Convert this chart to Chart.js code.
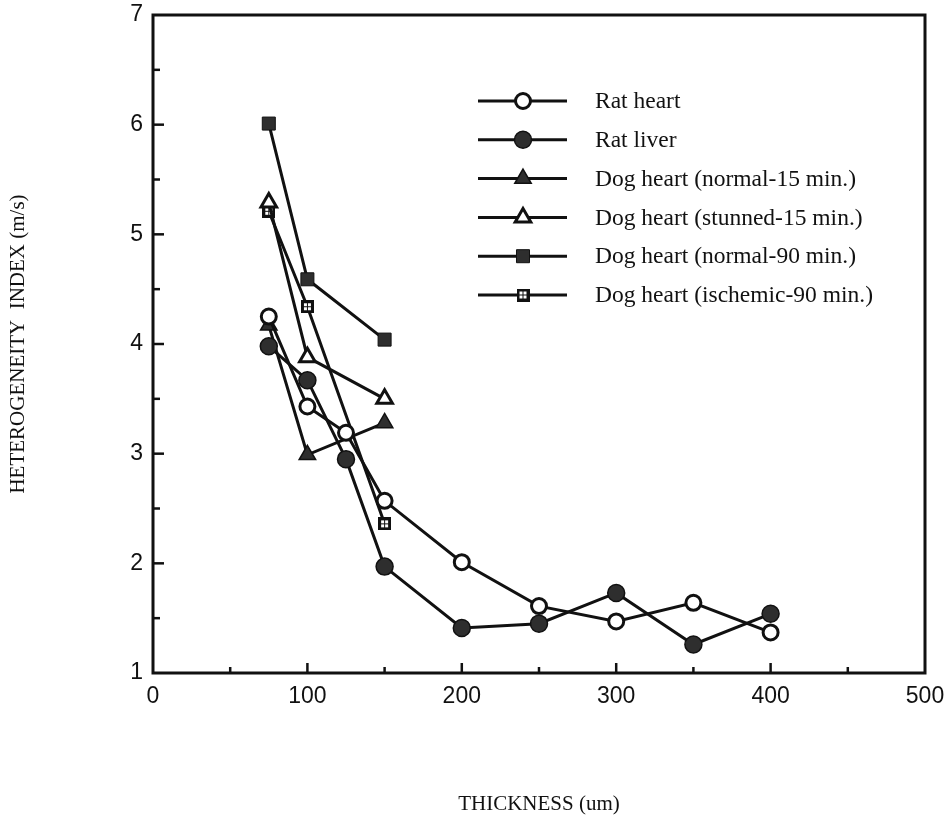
<!DOCTYPE html>
<html>
<head>
<meta charset="utf-8">
<script src="https://cdn.jsdelivr.net/npm/chart.js@4.4.0/dist/chart.umd.min.js"></script>
<style>
    body { margin: 0; background: #fff; }
    canvas { display: block; }
</style>
</head>
<body>
<canvas id="thicknessChart" width="950" height="822"></canvas>
<script>
// Section thickness (um) for each group
const ratThickness = [75, 100, 125, 150, 200, 250, 300, 350, 400];
const dogThickness = [75, 100, 150];

// Heterogeneity index (m/s)
const ratHeart = [4.25, 3.43, 3.19, 2.57, 2.01, 1.61, 1.47, 1.64, 1.37];
const ratLiver = [3.98, 3.67, 2.95, 1.97, 1.41, 1.45, 1.73, 1.26, 1.54];
const dogNormal15 = [4.17, 2.99, 3.28];
const dogStunned15 = [5.29, 3.88, 3.50];
const dogNormal90 = [6.01, 4.59, 4.04];
const dogIschemic90 = [5.21, 4.34, 2.36];

const seriesLabels = [
    'Rat heart',
    'Rat liver',
    'Dog heart (normal-15 min.)',
    'Dog heart (stunned-15 min.)',
    'Dog heart (normal-90 min.)',
    'Dog heart (ischemic-90 min.)'
];

const xTicks = [0, 100, 200, 300, 400, 500];
const yTicks = [1, 2, 3, 4, 5, 6, 7];

const ink = '#111111';
const dark = '#2e2e2e';

// Black square with a 2x2 grid of white holes
function makeGridSquare() {
    const c = document.createElement('canvas');
    c.width = 13;
    c.height = 13;
    const g = c.getContext('2d');
    g.fillStyle = ink;
    g.fillRect(0, 0, 13, 13);
    g.fillStyle = '#fff';
    g.fillRect(3, 3, 3, 3);
    g.fillRect(7, 3, 3, 3);
    g.fillRect(3, 7, 3, 3);
    g.fillRect(7, 7, 3, 3);
    return c;
}

const markers = [
    { style: 'circle', radius: 7.5, fill: '#fff', border: 3 },
    { style: 'circle', radius: 8.5, fill: dark, border: 1.5 },
    { style: 'triangle', radius: 9.5, fill: dark, border: 1.5 },
    { style: 'triangle', radius: 9, fill: '#fff', border: 3 },
    { style: 'rect', radius: 9.2, fill: dark, border: 1 },
    { style: makeGridSquare(), radius: 7, fill: ink, border: 0 }
];

function series(i, xs, ys) {
    const m = markers[i];
    return {
        label: seriesLabels[i],
        data: xs.map((x, k) => ({ x: x, y: ys[k] })),
        borderColor: ink,
        borderWidth: 3,
        pointStyle: m.style,
        pointRadius: m.radius,
        pointBackgroundColor: m.fill,
        pointBorderColor: ink,
        pointBorderWidth: m.border,
        fill: false,
        tension: 0
    };
}

// Draws one legend marker the same way the points look
function drawMarker(ctx, m, x, y) {
    ctx.save();
    ctx.fillStyle = m.fill;
    ctx.strokeStyle = ink;
    ctx.lineWidth = m.border;
    ctx.beginPath();
    if (typeof m.style !== 'string') {
        ctx.drawImage(m.style, x - m.style.width / 2, y - m.style.height / 2);
        ctx.restore();
        return;
    }
    if (m.style === 'circle') {
        ctx.arc(x, y, m.radius, 0, Math.PI * 2);
    } else if (m.style === 'triangle') {
        const r = m.radius;
        ctx.moveTo(x, y - r);
        ctx.lineTo(x + Math.sin(2 * Math.PI / 3) * r, y + r / 2);
        ctx.lineTo(x - Math.sin(2 * Math.PI / 3) * r, y + r / 2);
        ctx.closePath();
    } else {
        const s = m.radius * Math.SQRT1_2;
        ctx.rect(x - s, y - s, 2 * s, 2 * s);
    }
    ctx.fill();
    if (m.border > 0) ctx.stroke();
    ctx.restore();
}

// Box frame, inward ticks and the legend inside the plot
const frameAndLegend = {
    id: 'frameAndLegend',
    afterDatasetsDraw(chart) {
        const { ctx, chartArea: a, scales } = chart;
        const x = scales.x;
        const y = scales.y;
        ctx.save();
        ctx.strokeStyle = ink;
        ctx.lineWidth = 3;
        ctx.strokeRect(a.left, a.top, a.right - a.left, a.bottom - a.top);

        ctx.lineWidth = 2.5;
        for (let v = 50; v < 500; v += 50) {
            const px = x.getPixelForValue(v);
            const len = v % 100 === 0 ? 10 : 6;
            ctx.beginPath();
            ctx.moveTo(px, a.bottom);
            ctx.lineTo(px, a.bottom - len);
            ctx.stroke();
        }
        for (let v = 1.5; v < 7; v += 0.5) {
            const py = y.getPixelForValue(v);
            const len = v % 1 === 0 ? 11 : 7;
            ctx.beginPath();
            ctx.moveTo(a.left, py);
            ctx.lineTo(a.left + len, py);
            ctx.stroke();
        }

        // legend rows
        ctx.font = '23.5px "Liberation Serif", "DejaVu Serif", serif';
        ctx.fillStyle = ink;
        ctx.textBaseline = 'middle';
        chart.data.datasets.forEach((ds, i) => {
            const ry = a.top + 86 + i * 38.8;
            ctx.lineWidth = 3;
            ctx.beginPath();
            ctx.moveTo(a.left + 325, ry);
            ctx.lineTo(a.left + 414, ry);
            ctx.stroke();
            drawMarker(ctx, markers[i], a.left + 370, ry);
            ctx.fillStyle = ink;
            ctx.fillText(ds.label, a.left + 442, ry + 1);
        });
        ctx.restore();
    }
};

const tickFont = { family: '"Liberation Sans", Arial, sans-serif', size: 23 };
const titleFont = { family: '"Liberation Serif", "DejaVu Serif", serif', size: 21 };

new Chart(document.getElementById('thicknessChart').getContext('2d'), {
    type: 'line',
    data: {
        datasets: [
            series(0, ratThickness, ratHeart),
            series(1, ratThickness, ratLiver),
            series(2, dogThickness, dogNormal15),
            series(3, dogThickness, dogStunned15),
            series(4, dogThickness, dogNormal90),
            series(5, dogThickness, dogIschemic90)
        ]
    },
    options: {
        responsive: false,
        animation: false,
        events: [],
        layout: { padding: { top: 15, right: 25, left: 0, bottom: 0 } },
        plugins: {
            legend: { display: false },
            tooltip: { enabled: false }
        },
        scales: {
            x: {
                type: 'linear',
                min: 0,
                max: 500,
                afterBuildTicks: (s) => { s.ticks = xTicks.map(v => ({ value: v })); },
                afterFit: (s) => {
                    s.height = 149;
                    s.paddingLeft = 0;
                    s.paddingRight = 0;
                },
                grid: { display: false, drawTicks: false },
                border: { display: false },
                ticks: { font: tickFont, color: ink, padding: 10, maxRotation: 0 },
                title: {
                    display: true,
                    text: 'THICKNESS (um)',
                    font: titleFont,
                    color: ink,
                    padding: { top: 0, bottom: 5 }
                }
            },
            y: {
                type: 'linear',
                min: 1,
                max: 7,
                afterBuildTicks: (s) => { s.ticks = yTicks.map(v => ({ value: v })); },
                afterFit: (s) => {
                    s.width = 153;
                    s.paddingTop = 0;
                    s.paddingBottom = 0;
                },
                grid: { display: false, drawTicks: false },
                border: { display: false },
                ticks: { font: tickFont, color: ink, padding: 10 },
                title: {
                    display: true,
                    text: 'HETEROGENEITY  INDEX (m/s)',
                    font: titleFont,
                    color: ink,
                    padding: { top: 6, bottom: 0 }
                }
            }
        }
    },
    plugins: [frameAndLegend]
});
</script>
</body>
</html>
